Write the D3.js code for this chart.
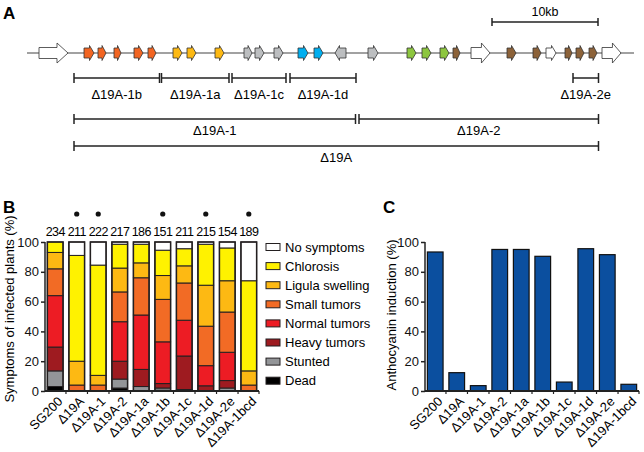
<!DOCTYPE html>
<html>
<head>
<meta charset="utf-8">
<script src="https://cdn.jsdelivr.net/npm/d3@7"></script>
<style>
  body { margin: 0; background: #fff; }
  svg { font-family: "Liberation Sans", Arial, sans-serif; }
</style>
</head>
<body>
<svg id="fig" width="644" height="452"></svg>
<script>
// ---- panel B / C data ----
var strains = ['SG200', 'Δ19A', 'Δ19A-1', 'Δ19A-2', 'Δ19A-1a', 'Δ19A-1b', 'Δ19A-1c', 'Δ19A-1d', 'Δ19A-2e', 'Δ19A-1bcd']
var counts = [234, 211, 222, 217, 186, 151, 211, 215, 154, 189]
var significant = [false, true, true, false, false, true, false, true, false, true]
var symptoms = ['Dead', 'Stunted', 'Heavy tumors', 'Normal tumors', 'Small tumors', 'Ligula swelling', 'Chlorosis', 'No symptoms']
var dead = [3, 0, 0, 2, 0, 0.5, 0, 0, 0, 0]
var stunted = [10.5, 0, 0, 6, 3, 1.5, 1, 0, 2, 0]
var heavyTumors = [16, 0, 0, 12, 11.5, 3, 22.5, 3.5, 5, 0]
var normalTumors = [34.5, 0, 0, 26.5, 36.5, 28, 24, 13.5, 19, 0]
var smallTumors = [18, 4, 4, 20, 25, 28.5, 25, 26.5, 27, 4]
var ligulaSwelling = [11, 16, 6.5, 16, 10, 16, 11.5, 27.5, 21, 9.5]
var chlorosis = [7, 71, 74, 16, 12.5, 17, 11.5, 27.5, 22, 60.5]
var noSymptoms = [0, 9, 15.5, 1.5, 1.5, 5.5, 4.5, 1.5, 4, 26]
var anthocyanin = [93.3, 12.3, 3.6, 95, 95, 90.4, 6, 95.5, 91.5, 4.5]
var yTicks = [0, 20, 40, 60, 80, 100]

// ---- panel A data (gene cluster map, kb-ish units) ----
var genes = [
  { from: 39, to: 68, col: '#ffffff', big: true },
  { from: 84, to: 94, col: '#f26522' }, { from: 98, to: 106, col: '#f26522' },
  { from: 114, to: 121, col: '#f26522' }, { from: 134, to: 143, col: '#f26522' },
  { from: 148, to: 156, col: '#f26522' },
  { from: 173, to: 182, col: '#fdb913' }, { from: 187, to: 196, col: '#fdb913' },
  { from: 215, to: 224, col: '#fdb913' },
  { from: 244, to: 252, col: '#bcbec0' }, { from: 255, to: 264, col: '#bcbec0' },
  { from: 274, to: 283, col: '#bcbec0' },
  { from: 298, to: 308, col: '#00aeef' }, { from: 314, to: 323, col: '#00aeef' },
  { from: 346, to: 335, col: '#bcbec0' },
  { from: 368, to: 378, col: '#bcbec0' },
  { from: 407, to: 416, col: '#8dc63f' }, { from: 422, to: 431, col: '#8dc63f' },
  { from: 440, to: 449, col: '#8dc63f' }, { from: 453, to: 460, col: '#8c6239' },
  { from: 471, to: 490, col: '#ffffff', big: true },
  { from: 507, to: 516, col: '#8c6239' }, { from: 533, to: 541, col: '#8c6239' },
  { from: 546, to: 556, col: '#ffffff' }, { from: 565, to: 572, col: '#8c6239' },
  { from: 576, to: 584, col: '#8c6239' }, { from: 589, to: 597, col: '#8c6239' },
  { from: 602, to: 621, col: '#ffffff', big: true }
]
var deletions = [
  { name: 'Δ19A-1b', from: 74, to: 159.5, row: 0 },
  { name: 'Δ19A-1a', from: 161.5, to: 229, row: 0 },
  { name: 'Δ19A-1c', from: 232, to: 286, row: 0 },
  { name: 'Δ19A-1d', from: 290, to: 356, row: 0 },
  { name: 'Δ19A-2e', from: 573, to: 598.5, row: 0 },
  { name: 'Δ19A-1', from: 74, to: 355.5, row: 1 },
  { name: 'Δ19A-2', from: 359, to: 598.5, row: 1 },
  { name: 'Δ19A', from: 74, to: 598.5, row: 2 }
]

var svg = d3.select('#fig')

// ================= panel A =================
var gA = svg.append('g')
gA.append('text').attr('x', 3).attr('y', 19).attr('font-size', 17).attr('font-weight', 'bold').text('A')

var xA = d3.scaleLinear().domain([0, 644]).range([0, 644])
var lineY = 53

// scale bar 10kb
gA.append('line').attr('x1', xA(492)).attr('x2', xA(598)).attr('y1', 22).attr('y2', 22).attr('stroke', '#222').attr('stroke-width', 1.5)
;[492, 598].forEach(function (v) {
  gA.append('line').attr('x1', xA(v)).attr('x2', xA(v)).attr('y1', 18).attr('y2', 26).attr('stroke', '#222').attr('stroke-width', 1.5)
})
gA.append('text').attr('x', xA(545)).attr('y', 16).attr('text-anchor', 'middle').attr('font-size', 12.5).text('10kb')

gA.append('line').attr('x1', xA(27)).attr('x2', xA(634)).attr('y1', lineY).attr('y2', lineY).attr('stroke', '#444').attr('stroke-width', 1.2)

function arrowPath(d) {
  var a = xA(d.from), b = xA(d.to)
  var dir = b > a ? 1 : -1
  var len = Math.abs(b - a)
  var h = d.big ? 5.5 : 5, H = d.big ? 10 : 7.5
  var head = d.big ? Math.min(11, len * 0.45) : Math.min(4.5, len * 0.5)
  var hx = b - dir * head
  return 'M' + a + ',' + (lineY - h) + 'L' + hx + ',' + (lineY - h) + 'L' + hx + ',' + (lineY - H) +
    'L' + b + ',' + lineY + 'L' + hx + ',' + (lineY + H) + 'L' + hx + ',' + (lineY + h) +
    'L' + a + ',' + (lineY + h) + 'Z'
}
gA.selectAll('path.gene').data(genes).enter().append('path')
  .attr('class', 'gene')
  .attr('d', arrowPath)
  .attr('fill', function (d) { return d.col })
  .attr('stroke', '#333')
  .attr('stroke-width', 0.8)

var rowY = [78, 119, 146], labY = [99, 135, 162]
deletions.forEach(function (d) {
  var y = rowY[d.row]
  var g = gA.append('g').attr('stroke', '#222').attr('stroke-width', 1.5)
  g.append('line').attr('x1', xA(d.from)).attr('x2', xA(d.to)).attr('y1', y).attr('y2', y)
  g.append('line').attr('x1', xA(d.from)).attr('x2', xA(d.from)).attr('y1', y - 5).attr('y2', y + 5)
  g.append('line').attr('x1', xA(d.to)).attr('x2', xA(d.to)).attr('y1', y - 5).attr('y2', y + 5)
  gA.append('text').attr('x', xA((d.from + d.to) / 2)).attr('y', labY[d.row])
    .attr('text-anchor', 'middle').attr('font-size', 13).text(d.name)
})

// ================= shared scales =================
var y = d3.scaleLinear().domain([0, 100]).range([391, 242])

function drawAxes(g, x, x0) {
  g.append('g').attr('transform', 'translate(' + x0 + ',0)')
    .call(d3.axisLeft(y).tickValues(yTicks).tickSize(4).tickPadding(2))
    .call(function (a) {
      a.select('.domain').attr('stroke', '#222').attr('stroke-width', 1.5).attr('d', 'M0,' + y(100) + 'V' + y(0))
      a.selectAll('.tick line').attr('stroke', '#222').attr('stroke-width', 1.5)
      a.selectAll('.tick text').attr('font-size', 13).attr('font-family', 'Liberation Sans, Arial, sans-serif').attr('fill', '#111')
    })
  var bounds = x.domain().map(function (s) { return x(s) - (x.step() - x.bandwidth()) / 2 })
  bounds.push(x.range()[1])
  var ax = g.append('g')
  ax.append('line').attr('x1', x0).attr('x2', x.range()[1]).attr('y1', y(0)).attr('y2', y(0))
    .attr('stroke', '#222').attr('stroke-width', 1.8)
  ax.selectAll('line.tk').data(bounds.slice(1)).enter().append('line').attr('class', 'tk')
    .attr('x1', function (d) { return d }).attr('x2', function (d) { return d })
    .attr('y1', y(0)).attr('y2', y(0) + 3).attr('stroke', '#222').attr('stroke-width', 1.2)
  ax.selectAll('text.xl').data(x.domain()).enter().append('text').attr('class', 'xl')
    .attr('transform', function (d) { return 'translate(' + (x(d) + x.bandwidth() / 2 + 5) + ',' + (y(0) + 8) + ') rotate(-45)' })
    .attr('text-anchor', 'end').attr('dy', '0.35em').attr('font-size', 13).text(function (d) { return d })
}

// ================= panel B =================
var gB = svg.append('g')
gB.append('text').attr('x', 3).attr('y', 213).attr('font-size', 17).attr('font-weight', 'bold').text('B')
var xB = d3.scaleBand().domain(strains).range([45, 259]).paddingInner(0.27).paddingOuter(0.11)

var rows = strains.map(function (s, i) {
  return { strain: s, 'Dead': dead[i], 'Stunted': stunted[i], 'Heavy tumors': heavyTumors[i],
    'Normal tumors': normalTumors[i], 'Small tumors': smallTumors[i], 'Ligula swelling': ligulaSwelling[i],
    'Chlorosis': chlorosis[i], 'No symptoms': noSymptoms[i] }
})
var colB = d3.scaleOrdinal().domain(symptoms)
  .range(['#000000', '#939598', '#9e1b20', '#ed1c24', '#f26b25', '#fdb913', '#fff200', '#ffffff'])
var stacked = d3.stack().keys(symptoms)(rows)

gB.selectAll('g.layer').data(stacked).enter().append('g').attr('class', 'layer')
  .attr('fill', function (d) { return colB(d.key) })
  .selectAll('rect').data(function (d) { return d }).enter().append('rect')
  .filter(function (d) { return d[1] - d[0] > 0 })
  .attr('x', function (d) { return xB(d.data.strain) })
  .attr('width', xB.bandwidth())
  .attr('y', function (d) { return y(d[1]) })
  .attr('height', function (d) { return y(d[0]) - y(d[1]) })
  .attr('stroke', '#231f20').attr('stroke-width', 1)

// outer frame of each bar
gB.selectAll('rect.frame').data(strains).enter().append('rect').attr('class', 'frame')
  .attr('x', function (d) { return xB(d) }).attr('width', xB.bandwidth())
  .attr('y', y(100)).attr('height', y(0) - y(100))
  .attr('fill', 'none').attr('stroke', '#231f20').attr('stroke-width', 1.5)

drawAxes(gB, xB, 45)

gB.selectAll('text.n').data(strains).enter().append('text').attr('class', 'n')
  .attr('x', function (d) { return xB(d) + xB.bandwidth() / 2 }).attr('y', 236)
  .attr('text-anchor', 'middle').attr('font-size', 12.5).attr('letter-spacing', '-0.6px')
  .text(function (d, i) { return counts[i] })
gB.selectAll('circle.sig').data(strains.filter(function (d, i) { return significant[i] })).enter().append('circle')
  .attr('cx', function (d) { return xB(d) + xB.bandwidth() / 2 }).attr('cy', 214).attr('r', 2.6).attr('fill', '#111')

gB.append('text').attr('transform', 'translate(14,309) rotate(-90)').attr('text-anchor', 'middle')
  .attr('font-size', 13).text('Symptoms of infected plants (%)')

// legend (top to bottom)
var legendItems = symptoms.slice().reverse()
var lg = gB.selectAll('g.lg').data(legendItems).enter().append('g').attr('class', 'lg')
  .attr('transform', function (d, i) { return 'translate(266,' + (247 + i * 19.1) + ')' })
lg.append('rect').attr('x', 0).attr('y', -3.5).attr('width', 14).attr('height', 7)
  .attr('fill', function (d) { return colB(d) }).attr('stroke', '#231f20').attr('stroke-width', 1)
lg.append('text').attr('x', 19).attr('dy', '0.36em').attr('font-size', 13).text(function (d) { return d })

// ================= panel C =================
var gC = svg.append('g')
gC.append('text').attr('x', 383).attr('y', 213).attr('font-size', 17).attr('font-weight', 'bold').text('C')
var xC = d3.scaleBand().domain(strains).range([425, 639]).paddingInner(0.27).paddingOuter(0.11)
gC.selectAll('rect.bar').data(strains).enter().append('rect').attr('class', 'bar')
  .attr('x', function (d) { return xC(d) }).attr('width', xC.bandwidth())
  .attr('y', function (d, i) { return y(anthocyanin[i]) })
  .attr('height', function (d, i) { return y(0) - y(anthocyanin[i]) })
  .attr('fill', '#0b4f9f').attr('stroke', '#111').attr('stroke-width', 1.2)
drawAxes(gC, xC, 425)
gC.append('text').attr('transform', 'translate(396,315) rotate(-90)').attr('text-anchor', 'middle')
  .attr('font-size', 13).text('Anthocyanin induction (%)')
</script>
</body>
</html>
